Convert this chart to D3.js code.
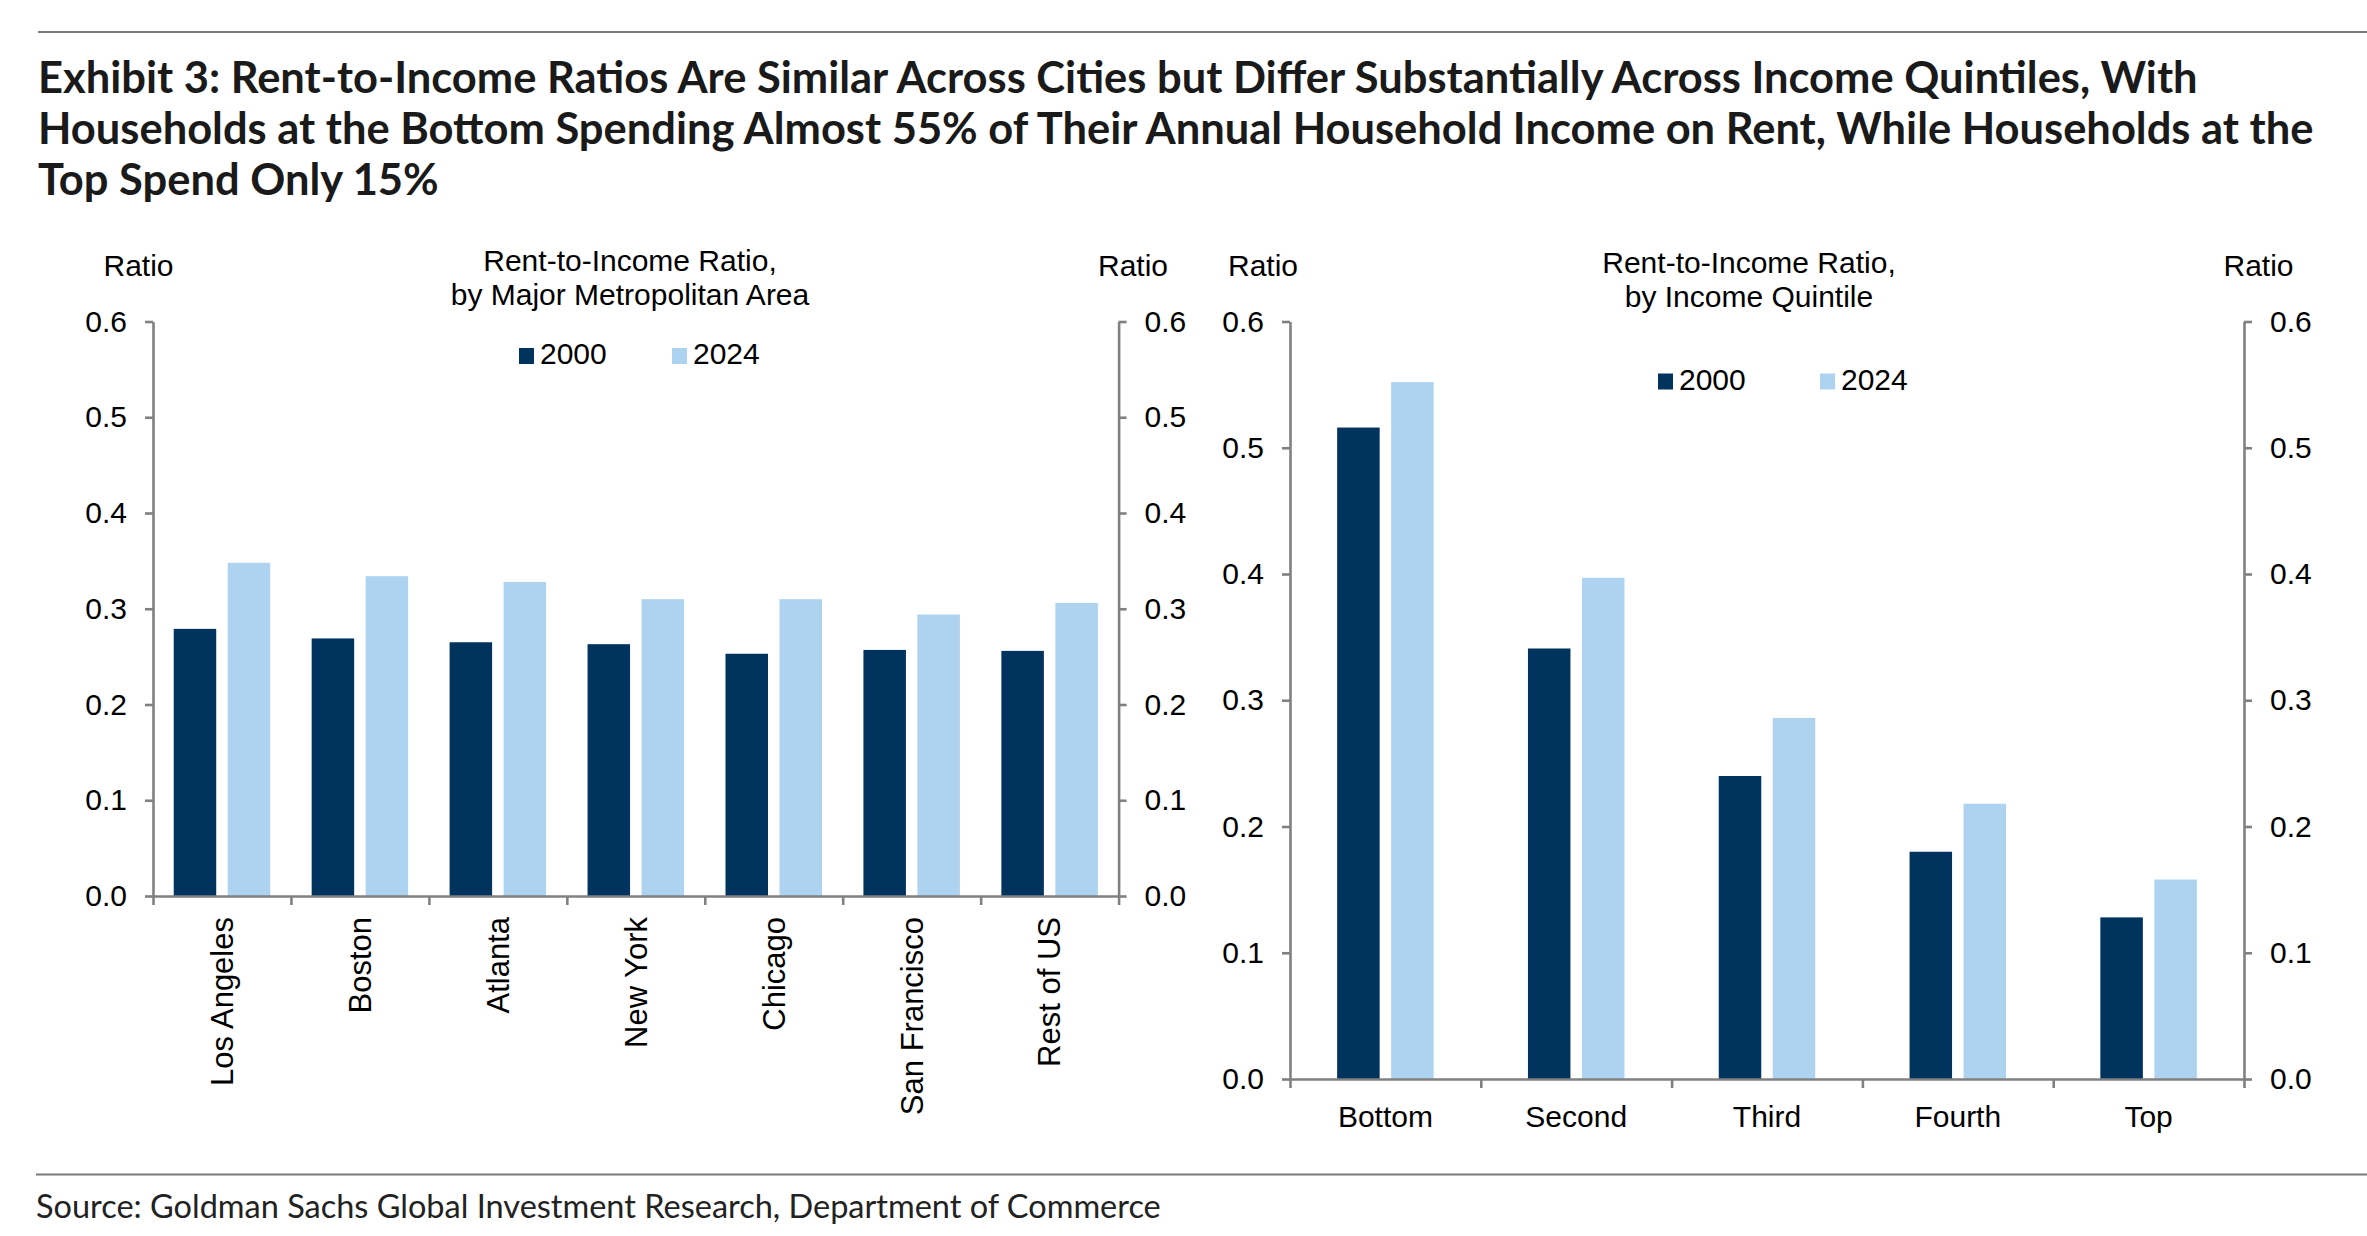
<!DOCTYPE html>
<html>
<head>
<meta charset="utf-8">
<script src="https://cdn.jsdelivr.net/npm/d3@7/dist/d3.min.js"></script>
<style>
  body { margin: 0; background: #fff; }
  svg { display: block; }
</style>
</head>
<body>
<svg id="chart" width="2367" height="1236"></svg>
<script>
// ---- data ----
var titleLines = [
  "Exhibit 3: Rent-to-Income Ratios Are Similar Across Cities but Differ Substantially Across Income Quintiles, With",
  "Households at the Bottom Spending Almost 55% of Their Annual Household Income on Rent, While Households at the",
  "Top Spend Only 15%"
];
var sourceText = "Source: Goldman Sachs Global Investment Research, Department of Commerce";

var years = ["2000", "2024"];

var cities = ["Los Angeles", "Boston", "Atlanta", "New York", "Chicago", "San Francisco", "Rest of US"];
var city2000 = [0.279, 0.269, 0.265, 0.263, 0.253, 0.257, 0.256];
var city2024 = [0.348, 0.334, 0.328, 0.310, 0.310, 0.294, 0.306];

var quintiles = ["Bottom", "Second", "Third", "Fourth", "Top"];
var quint2000 = [0.516, 0.341, 0.240, 0.180, 0.128];
var quint2024 = [0.552, 0.397, 0.286, 0.218, 0.158];

var yTicks = [0, 0.1, 0.2, 0.3, 0.4, 0.5, 0.6];

// ---- styles ----
var colors = ["#00335e", "#aed3f0"];
var axisColor = "#808080";
var chartFont = "'Liberation Sans', Arial, sans-serif";
var barW = 42.5, barGap = 11.5;

var svg = d3.select("#chart");

// rules
svg.append("line").attr("x1", 38).attr("x2", 2367).attr("y1", 32).attr("y2", 32)
  .attr("stroke", "#7a7a7a").attr("stroke-width", 2);
svg.append("line").attr("x1", 36).attr("x2", 2367).attr("y1", 1174.5).attr("y2", 1174.5)
  .attr("stroke", "#7a7a7a").attr("stroke-width", 2);

// title, sized so the first line spans the same width as in the picture
var title = svg.append("g")
  .attr("font-family", "Lato, 'Open Sans', sans-serif")
  .attr("font-weight", "bold")
  .attr("fill", "#1a1a1a");
var tl = title.selectAll("text").data(titleLines).enter().append("text")
  .attr("x", 38)
  .attr("y", (d, i) => 93 + i * 51)
  .attr("font-size", 38)
  .text(d => d);
var w0 = tl.nodes()[0].getComputedTextLength();
tl.attr("font-size", 38 * 2160 / w0);

var src = svg.append("text")
  .attr("x", 36).attr("y", 1218)
  .attr("font-family", "Lato, 'Open Sans', sans-serif")
  .attr("font-size", 28)
  .attr("fill", "#222")
  .text(sourceText);
src.attr("font-size", 28 * 1125 / src.node().getComputedTextLength());

function drawPanel(p) {
  var g = svg.append("g").attr("font-family", chartFont);

  var x = d3.scaleBand().domain(p.cats).range([p.x0, p.x1]).padding(0);
  var y = d3.scaleLinear().domain([0, 0.6]).range([p.yBase, p.yTop]);
  var off = (x.bandwidth() - 2 * barW - barGap) / 2;

  // bars
  p.series.forEach(function (vals, i) {
    g.append("g").selectAll("rect")
      .data(vals).enter()
      .append("rect")
      .attr("x", (d, j) => x(p.cats[j]) + off + i * (barW + barGap))
      .attr("y", d => y(d))
      .attr("width", barW)
      .attr("height", d => y(0) - y(d))
      .attr("fill", colors[i]);
  });

  // y axes on both sides
  var fmt = d3.format(".1f");
  var axL = g.append("g").attr("transform", "translate(" + p.x0 + ",0)")
    .call(d3.axisLeft(y).tickValues(yTicks).tickFormat(fmt)
      .tickSizeInner(8).tickSizeOuter(0).tickPadding(18));
  var axR = g.append("g").attr("transform", "translate(" + p.x1 + ",0)")
    .call(d3.axisRight(y).tickValues(yTicks).tickFormat(fmt)
      .tickSizeInner(8).tickSizeOuter(0).tickPadding(18));

  // x axis, ticks on category boundaries
  var edge = d3.scaleLinear().domain([0, p.cats.length]).range([p.x0, p.x1]);
  var axB = g.append("g").attr("transform", "translate(0," + p.yBase + ")")
    .call(d3.axisBottom(edge).tickValues(d3.range(p.cats.length + 1))
      .tickFormat("").tickSizeInner(9).tickSizeOuter(0));

  [axL, axR, axB].forEach(function (a) {
    a.select(".domain").attr("stroke", axisColor).attr("stroke-width", 2.6);
    a.selectAll(".tick line").attr("stroke", axisColor).attr("stroke-width", 2.6);
    a.selectAll("text").attr("font-size", 30).attr("font-family", chartFont).attr("fill", "#000");
  });

  // category labels
  var lab = g.append("g").selectAll("text")
    .data(p.cats).enter().append("text")
    .attr("font-size", p.rotate ? 31 : 30).attr("fill", "#000")
    .text(d => d);
  if (p.rotate) {
    lab.attr("text-anchor", "end")
      .attr("dy", "0.35em")
      .attr("transform", d => "translate(" + (x(d) + x.bandwidth() / 2) + "," + (p.yBase + 21) + ") rotate(-90)");
  } else {
    lab.attr("text-anchor", "middle")
      .attr("x", d => x(d) + x.bandwidth() / 2)
      .attr("y", p.yBase + 48);
  }

  // axis titles
  g.append("text").attr("x", p.ratioL).attr("y", 276).attr("text-anchor", "middle")
    .attr("font-size", 30).text("Ratio");
  g.append("text").attr("x", p.ratioR).attr("y", 276).attr("text-anchor", "middle")
    .attr("font-size", 30).text("Ratio");

  // panel subtitle
  g.append("g").selectAll("text").data(p.sub).enter().append("text")
    .attr("x", p.subX).attr("y", (d, i) => p.subY + i * 34)
    .attr("text-anchor", "middle").attr("font-size", 30)
    .text(d => d);

  // legend
  var leg = g.append("g").selectAll("g").data(years).enter().append("g")
    .attr("transform", (d, i) => "translate(" + p.legX[i] + "," + p.legY + ")");
  leg.append("rect").attr("x", 0).attr("y", -16).attr("width", 15).attr("height", 16)
    .attr("fill", (d, i) => colors[i]);
  leg.append("text").attr("x", 21).attr("y", 0).attr("font-size", 30).text(d => d);
}

drawPanel({
  cats: cities, series: [city2000, city2024],
  x0: 153, x1: 1118.6, yTop: 321.5, yBase: 896,
  rotate: true,
  ratioL: 138.5, ratioR: 1133,
  sub: ["Rent-to-Income Ratio,", "by Major Metropolitan Area"], subX: 630, subY: 271,
  legX: [519, 672], legY: 364
});

drawPanel({
  cats: quintiles, series: [quint2000, quint2024],
  x0: 1290, x1: 2244, yTop: 321.5, yBase: 1079,
  rotate: false,
  ratioL: 1263, ratioR: 2258.5,
  sub: ["Rent-to-Income Ratio,", "by Income Quintile"], subX: 1749, subY: 273,
  legX: [1658, 1820], legY: 389.5
});
</script>
</body>
</html>
